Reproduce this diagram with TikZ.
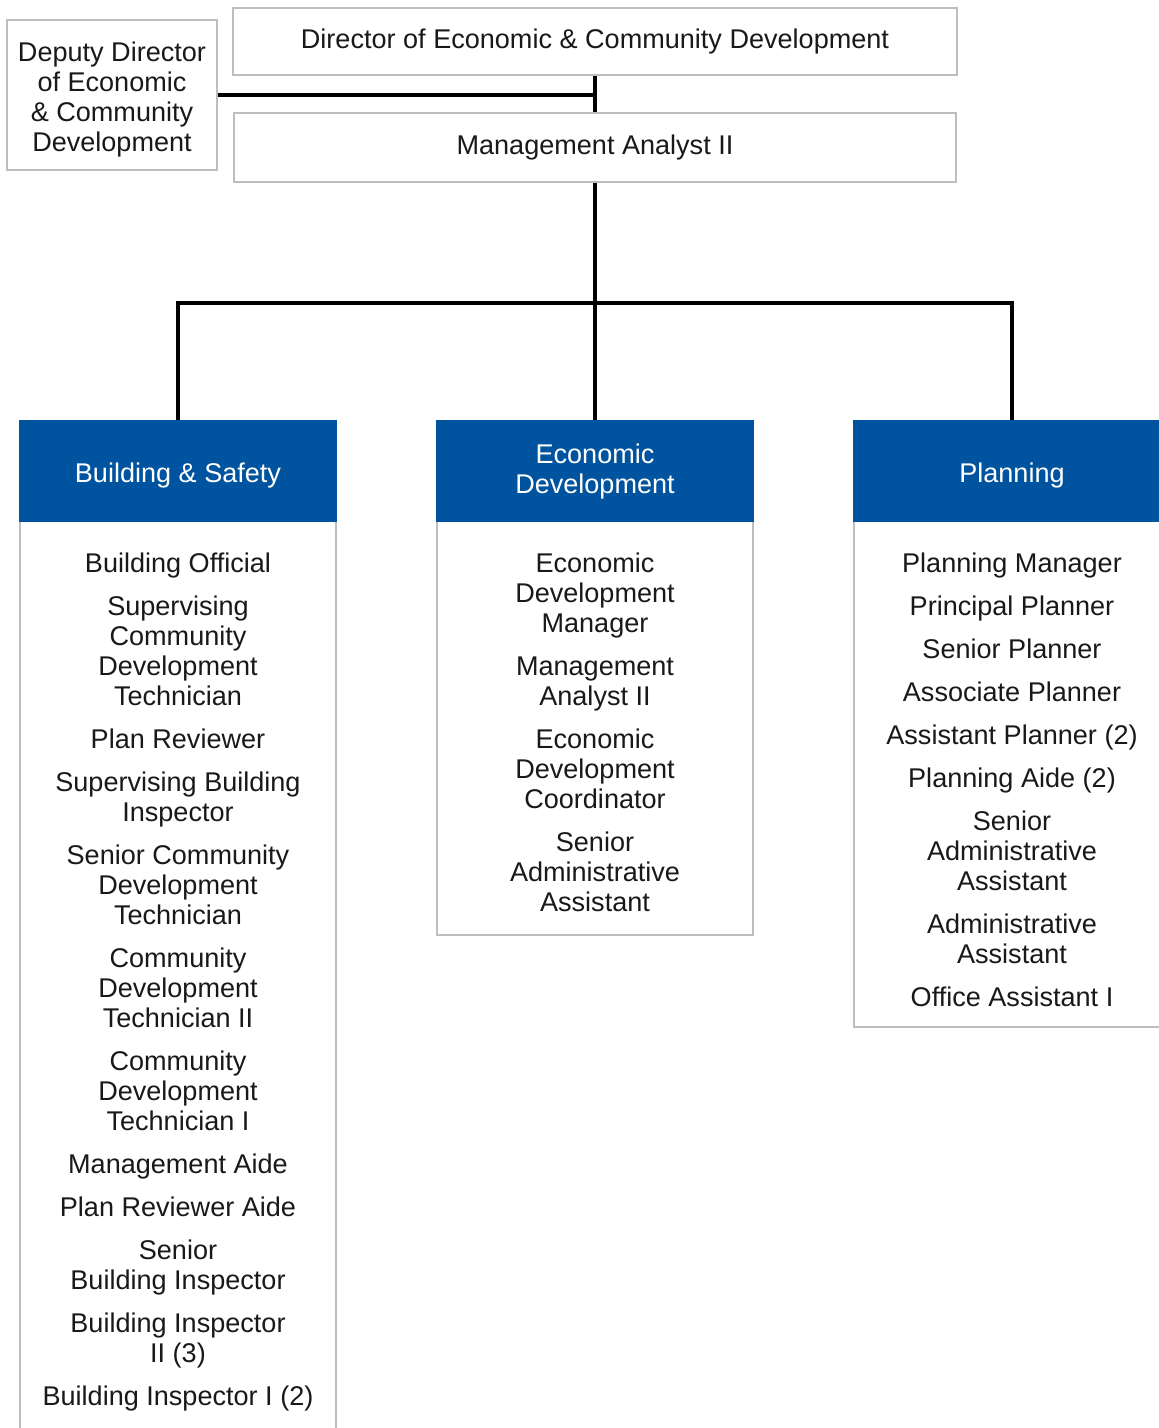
\documentclass[tikz,border=0pt]{standalone}
\usepackage{fontspec}
\setmainfont{Liberation Sans}
\definecolor{hdrblue}{RGB}{0,83,158}
\definecolor{boxgrey}{RGB}{190,190,190}
\definecolor{txt}{RGB}{25,25,25}
\begin{document}
\begin{tikzpicture}[x=0.75pt,y=-0.75pt,
  every node/.style={font=\fontsize{20.3}{22.5}\selectfont, text=txt, align=center, inner sep=0pt},
  topbox/.style={draw=boxgrey, line width=1pt, fill=white},
  hdr/.style={fill=hdrblue, draw=hdrblue, line width=1pt, text=white, minimum width=237pt, minimum height=75pt},
  hdrtext/.style={text=white},
  body/.style={draw=boxgrey, line width=1.1pt, fill=white, minimum width=237pt},
  link/.style={line width=2.7pt, draw=black},
  items/.style={anchor=north}]
\useasboundingbox (0,0) rectangle (1159,1428);
\clip (0,0) rectangle (1159,1428);

% top boxes
\node[topbox, minimum width=543pt, minimum height=50.25pt] (dir) at (595,41.5) {Director of Economic \& Community Development};
\node[topbox, minimum width=541.5pt, minimum height=51.75pt] (ana) at (595,147.5) {Management Analyst II};
\node[topbox, minimum width=157.5pt, minimum height=112.5pt] (dep) at (112,95) {};
\node (deptext) at (112,99) {Deputy Director\\of Economic\\\& Community\\Development};

% column bodies
\node[body, minimum height=764.25pt] (bsbody) at (178,930.5) {};
\node[body, minimum height=385.5pt] (edbody) at (595,678) {};
\node[body, minimum height=454.5pt] (plbody) at (1012,724) {};

% headers
\node[hdr] (bs) at (178,471) {};
\node[hdrtext] (bstext) at (178,475) {Building \& Safety};
\node[hdr] (ed) at (595,471) {Economic\\Development};
\node[hdr] (pl) at (1012,471) {};
\node[hdrtext] (pltext) at (1012,475) {Planning};

% connectors
\coordinate (bus) at (595,303);
\draw[link] (dir.south) -- (ana.north);
\draw[link] (dep.east) -- (dep.east -| dir.south);
\draw[link] (ana.south) -- (ed.north);
\draw[link] (bs.north) |- (bus) -| (pl.north);

% items
\node[items] (bsitems) at (178,553) {Building Official\\[9.75pt]
Supervising\\Community\\Development\\Technician\\[9.75pt]
Plan Reviewer\\[9.75pt]
Supervising Building\\Inspector\\[9.75pt]
Senior Community\\Development\\Technician\\[9.75pt]
Community\\Development\\Technician II\\[9.75pt]
Community\\Development\\Technician I\\[9.75pt]
Management Aide\\[9.75pt]
Plan Reviewer Aide\\[9.75pt]
Senior\\Building Inspector\\[9.75pt]
Building Inspector\\II (3)\\[9.75pt]
Building Inspector I (2)};

\node[items] (editems) at (595,553) {Economic\\Development\\Manager\\[9.75pt]
Management\\Analyst II\\[9.75pt]
Economic\\Development\\Coordinator\\[9.75pt]
Senior\\Administrative\\Assistant};

\node[items] (plitems) at (1012,553) {Planning Manager\\[9.75pt]
Principal Planner\\[9.75pt]
Senior Planner\\[9.75pt]
Associate Planner\\[9.75pt]
Assistant Planner (2)\\[9.75pt]
Planning Aide (2)\\[9.75pt]
Senior\\Administrative\\Assistant\\[9.75pt]
Administrative\\Assistant\\[9.75pt]
Office Assistant I};
\end{tikzpicture}
\end{document}
